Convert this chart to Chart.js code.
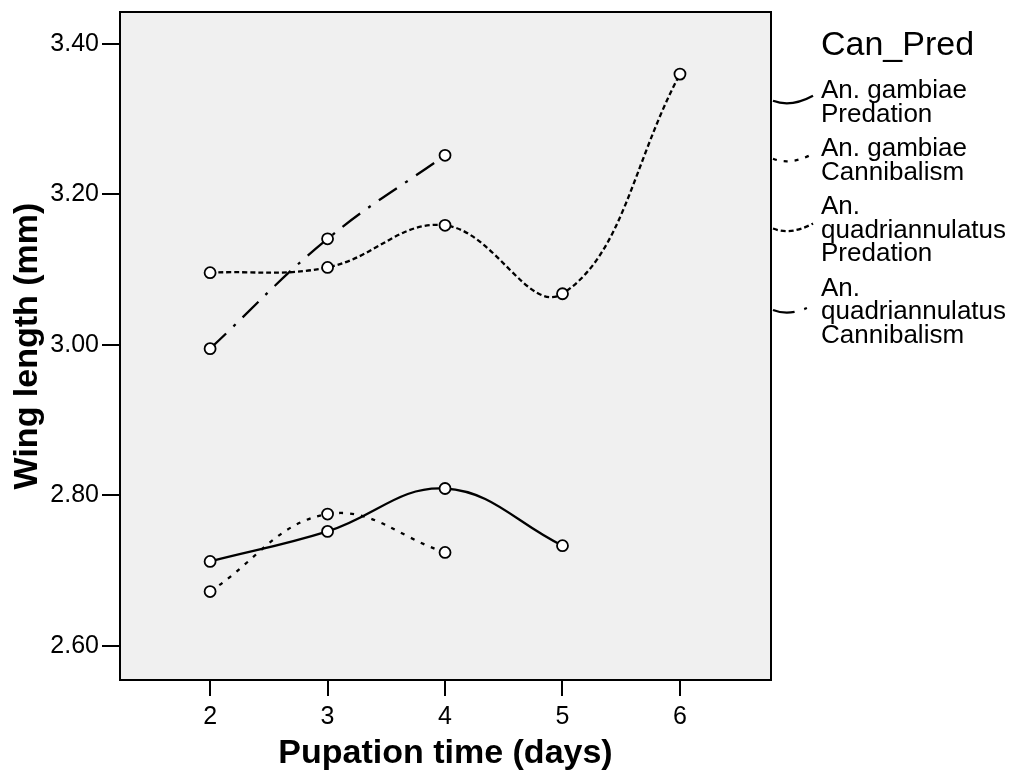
<!DOCTYPE html>
<html><head><meta charset="utf-8">
<script src="https://cdn.jsdelivr.net/npm/chart.js@4.4.1/dist/chart.umd.min.js"></script>
<style>html,body{margin:0;padding:0;background:#fff}#wrap{width:1015px;height:773px}</style>
</head><body><div id="wrap"><canvas id="c" width="1015" height="773"></canvas></div>
<script>
// ---- data ----
const days = [2, 3, 4, 5, 6];
const xTicks = [2, 3, 4, 5, 6];
const yTicks = [2.60, 2.80, 3.00, 3.20, 3.40];
const xRange = [1.233, 6.775];
const yRange = [2.5544, 3.4426];
const gambiaePredation = [2.712, 2.752, 2.809, 2.733];
const gambiaeCannibalism = [2.672, 2.775, 2.724];
const quadPredation = [3.096, 3.103, 3.159, 3.068, 3.360];
const quadCannibalism = [2.995, 3.141, 3.252];
const seriesLabels = [
  ["An. gambiae", "Predation"],
  ["An. gambiae", "Cannibalism"],
  ["An.", "quadriannulatus", "Predation"],
  ["An.", "quadriannulatus", "Cannibalism"]
];
const legendTitle = "Can_Pred";
const xTitle = "Pupation time (days)";
const yTitle = "Wing length (mm)";

const FONT = '"Liberation Sans", Arial, Helvetica, sans-serif';
const pts = vals => vals.map((v, i) => ({x: days[i], y: v}));
const seriesValues = [gambiaePredation, gambiaeCannibalism, quadPredation, quadCannibalism];
const dashes = [[], [4, 7], [5, 3], [22, 10, 3, 10]];

const datasets = seriesValues.map((vals, i) => ({
  label: seriesLabels[i].join(' '),
  data: pts(vals),
  borderColor: '#000',
  borderWidth: 2.3,
  borderDash: dashes[i],
  tension: 0.4,
  fill: false,
  pointRadius: 5.5,
  pointBorderWidth: 1.8,
  pointBackgroundColor: '#fff',
  pointBorderColor: '#000'
}));

const framePlugin = {
  id: 'frame',
  beforeDatasetsDraw(chart) {
    const {ctx, chartArea: a} = chart;
    ctx.save();
    ctx.fillStyle = '#f0f0f0';
    ctx.fillRect(a.left, a.top, a.right - a.left, a.bottom - a.top);
    ctx.restore();
  },
  afterDraw(chart) {
    const {ctx, chartArea: a} = chart;
    ctx.save();
    ctx.strokeStyle = '#000';
    ctx.lineWidth = 2;
    ctx.strokeRect(a.left, a.top, a.right - a.left, a.bottom - a.top);
    ctx.restore();
  }
};

const legendPlugin = {
  id: 'sideLegend',
  afterDraw(chart) {
    const ctx = chart.ctx;
    const a = chart.chartArea;
    const x0 = a.right + 50;
    ctx.save();
    ctx.fillStyle = '#000';
    ctx.textAlign = 'left';
    ctx.textBaseline = 'alphabetic';
    ctx.font = '34px ' + FONT;
    ctx.fillText(legendTitle, x0, 55);
    ctx.font = '26px ' + FONT;
    const step = 23.5, gap = 34.5;
    let y = 98;
    seriesLabels.forEach((lines, i) => {
      const first = y;
      lines.forEach((t, j) => { ctx.fillText(t, x0, y); if (j < lines.length - 1) y += step; });
      const last = y;
      const yc = (first + last) / 2 - 10;
      const ds = chart.data.datasets[i];
      ctx.save();
      ctx.strokeStyle = '#000';
      ctx.lineWidth = 2.3;
      ctx.setLineDash(ds.borderDash);
      ctx.beginPath();
      ctx.moveTo(a.right + 2, yc + 1);
      ctx.quadraticCurveTo(a.right + 20, yc + 8, a.right + 42, yc - 4);
      ctx.stroke();
      ctx.restore();
      y += gap;
    });
    ctx.restore();
  }
};

new Chart(document.getElementById('c'), {
  type: 'line',
  data: {datasets},
  options: {
    responsive: false,
    animation: false,
    devicePixelRatio: 1,
    layout: {padding: {left: 0, right: 244, top: 12, bottom: 0}},
    plugins: {legend: {display: false}, tooltip: {enabled: false}},
    scales: {
      x: {
        type: 'linear',
        min: xRange[0], max: xRange[1],
        afterFit(s) { s.height = 93; s.paddingLeft = 0; s.paddingRight = 0; },
        afterBuildTicks(s) { s.ticks = xTicks.map(v => ({value: v})); },
        grid: {drawOnChartArea: false, drawTicks: true, tickLength: 16, color: '#000', lineWidth: 2},
        border: {display: false},
        ticks: {color: '#000', font: {family: FONT, size: 25}, padding: 6, callback: v => String(v), maxRotation: 0},
        title: {display: true, text: xTitle, color: '#000', font: {family: FONT, size: 34, weight: 'bold', lineHeight: 1}, padding: {top: 0, bottom: 2}}
      },
      y: {
        type: 'linear',
        min: yRange[0], max: yRange[1],
        afterFit(s) { s.width = 120; s.paddingTop = 0; s.paddingBottom = 0; },
        afterBuildTicks(s) { s.ticks = yTicks.map(v => ({value: v})); },
        grid: {drawOnChartArea: false, drawTicks: true, tickLength: 18, color: '#000', lineWidth: 2},
        border: {display: false},
        ticks: {color: '#000', font: {family: FONT, size: 25}, padding: 3, callback: v => Number(v).toFixed(2)},
        title: {display: true, text: yTitle, color: '#000', font: {family: FONT, size: 34, weight: 'bold', lineHeight: 1}, padding: {top: 11, bottom: 0}}
      }
    }
  },
  plugins: [framePlugin, legendPlugin]
});
</script></body></html>
